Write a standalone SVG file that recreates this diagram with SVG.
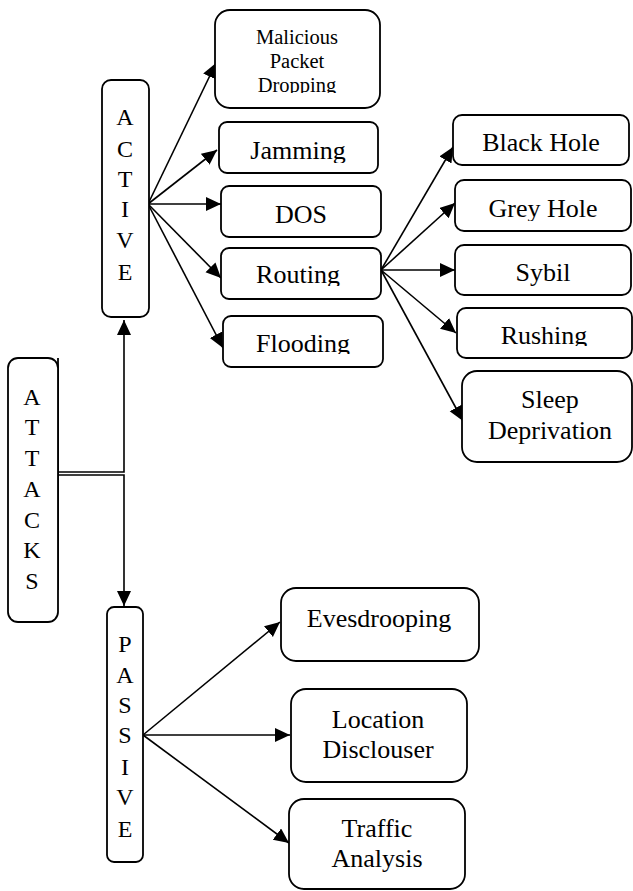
<svg xmlns="http://www.w3.org/2000/svg" width="633" height="891" viewBox="0 0 633 891">
  <style>
    .box { fill: #fff; stroke: #000; stroke-width: 1.8; }
    .lbl { font-family: "Liberation Serif", "Times New Roman", serif; font-size: 26px; fill: #000; text-anchor: middle; }
    .sm { font-size: 20.5px; }
    .vert { font-family: "Liberation Serif", "Times New Roman", serif; font-size: 24px; fill: #000; text-anchor: middle; }
    .wire { fill: none; stroke: #000; stroke-width: 1.6; }
  </style>
  <defs>
    <marker id="head" markerUnits="userSpaceOnUse" markerWidth="16" markerHeight="16" refX="15" refY="7" orient="auto">
      <path d="M0,0 L15,7 L0,14 z" fill="#000"/>
    </marker>
    <!-- text frames cut off the lower part of some captions -->
    <clipPath id="cDrop" clipPathUnits="userSpaceOnUse"><rect x="215" y="10" width="165" height="83"/></clipPath>
    <clipPath id="cJam" clipPathUnits="userSpaceOnUse"><rect x="219" y="122" width="159" height="41"/></clipPath>
    <clipPath id="cRout" clipPathUnits="userSpaceOnUse"><rect x="221" y="248" width="160" height="38"/></clipPath>
    <clipPath id="cFlood" clipPathUnits="userSpaceOnUse"><rect x="223" y="316" width="160" height="38"/></clipPath>
    <clipPath id="cGrey" clipPathUnits="userSpaceOnUse"><rect x="455" y="180" width="176" height="41"/></clipPath>
    <clipPath id="cRush" clipPathUnits="userSpaceOnUse"><rect x="457" y="308" width="175" height="38"/></clipPath>
  </defs>

  <!-- connectors -->
  <g id="connectors">
    <path class="wire" d="M58,472 H124 V320" marker-end="url(#head)"/>
    <path class="wire" d="M58,475 H124 V606" marker-end="url(#head)"/>
    <line x1="58" y1="358" x2="58" y2="590" stroke="#000" stroke-width="1.8"/>

    <line class="wire" x1="148" y1="204" x2="216" y2="63" marker-end="url(#head)"/>
    <line class="wire" x1="148" y1="204" x2="217" y2="150" marker-end="url(#head)"/>
    <line class="wire" x1="148" y1="204" x2="221" y2="204" marker-end="url(#head)"/>
    <line class="wire" x1="148" y1="204" x2="221" y2="278" marker-end="url(#head)"/>
    <line class="wire" x1="148" y1="204" x2="223" y2="348" marker-end="url(#head)"/>

    <line class="wire" x1="381" y1="270" x2="453" y2="147" marker-end="url(#head)"/>
    <line class="wire" x1="381" y1="270" x2="455" y2="203" marker-end="url(#head)"/>
    <line class="wire" x1="381" y1="270" x2="455" y2="270" marker-end="url(#head)"/>
    <line class="wire" x1="381" y1="270" x2="456" y2="333" marker-end="url(#head)"/>
    <line class="wire" x1="381" y1="270" x2="463" y2="421" marker-end="url(#head)"/>

    <line class="wire" x1="143" y1="735" x2="280" y2="622" marker-end="url(#head)"/>
    <line class="wire" x1="143" y1="735" x2="290" y2="735" marker-end="url(#head)"/>
    <line class="wire" x1="143" y1="735" x2="289" y2="843" marker-end="url(#head)"/>
  </g>

  <!-- root -->
  <g id="attacks">
    <rect class="box" x="8" y="358" width="50" height="264" rx="10"/>
    <text class="vert" x="32" y="405">A</text>
    <text class="vert" x="32" y="435">T</text>
    <text class="vert" x="32" y="466">T</text>
    <text class="vert" x="32" y="497">A</text>
    <text class="vert" x="32" y="528">C</text>
    <text class="vert" x="32" y="558">K</text>
    <text class="vert" x="32" y="589">S</text>
  </g>

  <!-- active branch -->
  <g id="active">
    <rect class="box" x="102" y="80" width="47" height="237" rx="9"/>
    <text class="vert" x="125" y="125">A</text>
    <text class="vert" x="125" y="157">C</text>
    <text class="vert" x="125" y="187">T</text>
    <text class="vert" x="125" y="217">I</text>
    <text class="vert" x="125" y="248">V</text>
    <text class="vert" x="125" y="280">E</text>
  </g>
  <g id="malicious">
    <rect class="box" x="215" y="10" width="165" height="98" rx="15"/>
    <g clip-path="url(#cDrop)">
      <text class="lbl sm" x="297" y="44">Malicious</text>
      <text class="lbl sm" x="297" y="68">Packet</text>
      <text class="lbl sm" x="297" y="92">Dropping</text>
    </g>
  </g>
  <g id="jamming">
    <rect class="box" x="219" y="122" width="159" height="51" rx="8"/>
    <text class="lbl" x="298" y="159" clip-path="url(#cJam)">Jamming</text>
  </g>
  <g id="dos">
    <rect class="box" x="221" y="186" width="160" height="51" rx="8"/>
    <text class="lbl" x="301" y="223">DOS</text>
  </g>
  <g id="routing">
    <rect class="box" x="221" y="248" width="160" height="51" rx="8"/>
    <text class="lbl" x="298" y="283" clip-path="url(#cRout)">Routing</text>
  </g>
  <g id="flooding">
    <rect class="box" x="223" y="316" width="160" height="51" rx="8"/>
    <text class="lbl" x="303" y="352" clip-path="url(#cFlood)">Flooding</text>
  </g>

  <!-- routing attacks -->
  <g id="blackhole">
    <rect class="box" x="453" y="115" width="176" height="50" rx="9"/>
    <text class="lbl" x="541" y="151">Black Hole</text>
  </g>
  <g id="greyhole">
    <rect class="box" x="455" y="180" width="176" height="51" rx="9"/>
    <text class="lbl" x="543" y="217" clip-path="url(#cGrey)">Grey Hole</text>
  </g>
  <g id="sybil">
    <rect class="box" x="455" y="245" width="176" height="50" rx="9"/>
    <text class="lbl" x="543" y="281">Sybil</text>
  </g>
  <g id="rushing">
    <rect class="box" x="457" y="308" width="175" height="50" rx="9"/>
    <text class="lbl" x="544" y="344" clip-path="url(#cRush)">Rushing</text>
  </g>
  <g id="sleep">
    <rect class="box" x="462" y="371" width="170" height="91" rx="15"/>
    <text class="lbl" x="550" y="408">Sleep</text>
    <text class="lbl" x="550" y="439">Deprivation</text>
  </g>

  <!-- passive branch -->
  <g id="passive">
    <rect class="box" x="107" y="607" width="36" height="255" rx="7"/>
    <text class="vert" x="125" y="652">P</text>
    <text class="vert" x="125" y="683">A</text>
    <text class="vert" x="125" y="713">S</text>
    <text class="vert" x="125" y="743">S</text>
    <text class="vert" x="125" y="775">I</text>
    <text class="vert" x="125" y="805">V</text>
    <text class="vert" x="125" y="837">E</text>
  </g>
  <g id="evesdrooping">
    <rect class="box" x="281" y="588" width="198" height="73" rx="15"/>
    <text class="lbl" x="379" y="627">Evesdrooping</text>
  </g>
  <g id="location">
    <rect class="box" x="291" y="689" width="176" height="93" rx="15"/>
    <text class="lbl" x="378" y="728">Location</text>
    <text class="lbl" x="378" y="758">Disclouser</text>
  </g>
  <g id="traffic">
    <rect class="box" x="289" y="799" width="176" height="90" rx="15"/>
    <text class="lbl" x="377" y="837">Traffic</text>
    <text class="lbl" x="377" y="867">Analysis</text>
  </g>
</svg>
